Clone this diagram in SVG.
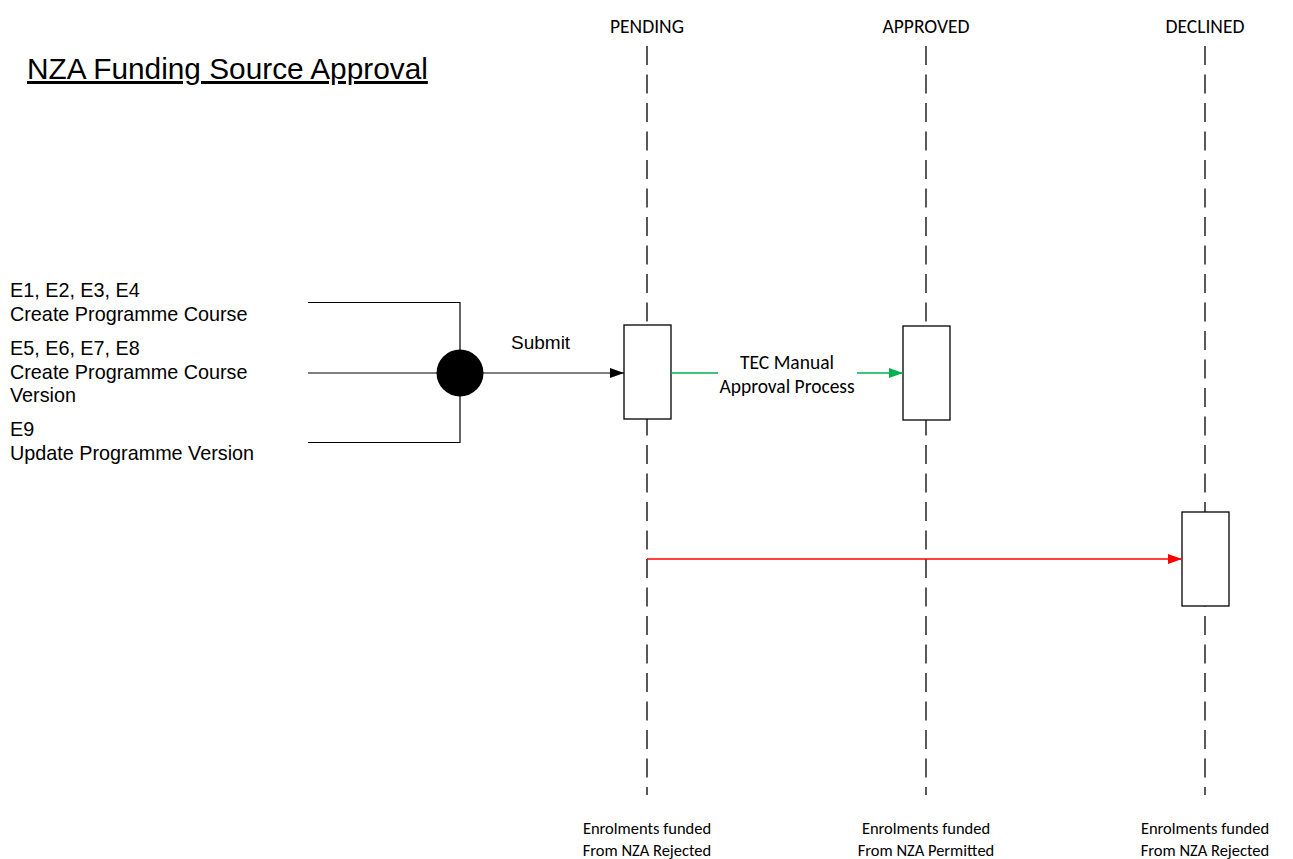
<svg xmlns="http://www.w3.org/2000/svg" width="1293" height="859" viewBox="0 0 1293 859">
<style>
.arial{font-family:"Liberation Sans",Arial,sans-serif;fill:#000}
.cal{font-family:Carlito,"Open Sans",sans-serif;fill:#000;font-size:19.5px}
.foot{font-family:Carlito,"Open Sans",sans-serif;fill:#000;font-size:16.5px}
.life{stroke:#000;stroke-width:1.3;stroke-dasharray:19 9.5;fill:none}
.box{fill:#fff;stroke:#000;stroke-width:1.3}
.wire{stroke:#000;stroke-width:1.2;fill:none}
</style>
<defs>
<marker id="ab" markerWidth="14" markerHeight="10" refX="14" refY="5" orient="auto" markerUnits="userSpaceOnUse"><path d="M0,0 L14,5 L0,10 Z" fill="#000"/></marker>
<marker id="ag" markerWidth="14" markerHeight="10" refX="14" refY="5" orient="auto" markerUnits="userSpaceOnUse"><path d="M0,0 L14,5 L0,10 Z" fill="#00B050"/></marker>
<marker id="ar" markerWidth="14" markerHeight="10" refX="14" refY="5" orient="auto" markerUnits="userSpaceOnUse"><path d="M0,0 L14,5 L0,10 Z" fill="#FF0000"/></marker>
</defs>
<rect width="1293" height="859" fill="#fff"/>
<g id="title"><text class="arial" x="27" y="79" font-size="29.8" text-decoration="underline">NZA Funding Source Approval</text></g>
<g id="pending">
<text class="cal" x="647" y="33" text-anchor="middle">PENDING</text>
<line class="life" x1="647" y1="46" x2="647" y2="795"/>
<rect class="box" x="624" y="325" width="47" height="94"/>
<text class="foot" x="647" y="834" text-anchor="middle">Enrolments funded</text>
<text class="foot" x="647" y="856" text-anchor="middle">From NZA Rejected</text>
</g>
<g id="approved">
<text class="cal" x="926" y="33" text-anchor="middle">APPROVED</text>
<line class="life" x1="926" y1="46" x2="926" y2="795"/>
<rect class="box" x="903" y="326" width="47" height="94"/>
<text class="foot" x="926" y="834" text-anchor="middle">Enrolments funded</text>
<text class="foot" x="926" y="856" text-anchor="middle">From NZA Permitted</text>
</g>
<g id="declined">
<text class="cal" x="1205" y="33" text-anchor="middle">DECLINED</text>
<line class="life" x1="1205" y1="46" x2="1205" y2="795"/>
<rect class="box" x="1182" y="512" width="47" height="94"/>
<text class="foot" x="1205" y="834" text-anchor="middle">Enrolments funded</text>
<text class="foot" x="1205" y="856" text-anchor="middle">From NZA Rejected</text>
</g>
<g id="events">
<text class="arial" x="10" y="297" font-size="19.8">E1, E2, E3, E4</text>
<text class="arial" x="10" y="321" font-size="19.8">Create Programme Course</text>
<text class="arial" x="10" y="355" font-size="19.8">E5, E6, E7, E8</text>
<text class="arial" x="10" y="379" font-size="19.8">Create Programme Course</text>
<text class="arial" x="10" y="402" font-size="19.8">Version</text>
<text class="arial" x="10" y="436" font-size="19.8">E9</text>
<text class="arial" x="10" y="460" font-size="19.8">Update Programme Version</text>
</g>
<g id="connectors">
<polyline class="wire" points="308,302.5 460,302.5 460,442.5 308,442.5"/>
<line class="wire" x1="308" y1="373" x2="460" y2="373"/>
<line class="wire" x1="460" y1="373" x2="624" y2="373" marker-end="url(#ab)"/>
<line x1="671" y1="373" x2="718" y2="373" stroke="#00B050" stroke-width="1.3"/>
<line x1="857" y1="373" x2="903" y2="373" stroke="#00B050" stroke-width="1.3" marker-end="url(#ag)"/>
<line x1="647" y1="559" x2="1182" y2="559" stroke="#FF0000" stroke-width="1.3" marker-end="url(#ar)"/>
<text class="arial" x="511" y="349" font-size="19">Submit</text>
<text class="cal" x="787" y="369" text-anchor="middle">TEC Manual</text>
<text class="cal" x="787" y="393" text-anchor="middle">Approval Process</text>
</g>
<g id="join"><circle cx="460" cy="373" r="23.5" fill="#000"/></g>
</svg>
